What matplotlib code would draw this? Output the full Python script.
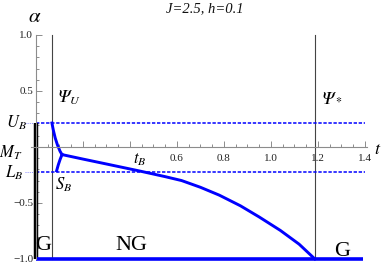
import numpy as np
from matplotlib import *
use("Agg")
from matplotlib.pyplot import *

# ______________________________________________________________________________
# Les donnees

# Parametres
J = 2.5
h = 0.1

# Lignes remarquables
psi_U = 0.068
psi_star = 1.187
U_B = 0.214
L_B = -0.223
alpha_min = -1.0
t_max = 1.39

# Branche superieure (depuis Psi_U, U_B jusqu'au point triple)
upper_t = [0.068, 0.074, 0.082, 0.092, 0.103, 0.111]
upper_a = [0.214, 0.150, 0.080, 0.015, -0.040, -0.068]

# Branche S_B (depuis L_B jusqu'au point triple)
sb_t = [0.088, 0.095, 0.103, 0.111]
sb_a = [-0.212, -0.160, -0.110, -0.068]

# Ligne t_B jusqu'a Psi_*
tb_t = [0.111, 0.20, 0.30, 0.44, 0.55, 0.62, 0.70, 0.78, 0.87, 0.95, 1.04, 1.12, 1.187]
tb_a = [-0.068, -0.108, -0.152, -0.214, -0.265, -0.30, -0.36, -0.43, -0.525, -0.625, -0.745, -0.868, -1.0]

# Graduations
xticks_major = [0.2, 0.4, 0.6, 0.8, 1.0, 1.2, 1.4]
xtick_labels = ["", "", "0.6", "0.8", "1.0", "1.2", "1.4"]
yticks_major = [-1.0, -0.5, 0.0, 0.5, 1.0]
ytick_labels = ["\u22121.0", "\u22120.5", "", "0.5", "1.0"]

# ______________________________________________________________________________
# RCParams

rcParams['font.family'] = 'Liberation Serif'
rcParams['mathtext.fontset'] = 'stix'
rcParams['figure.facecolor'] = 'w'

fig = figure(figsize=(3.83, 2.64), dpi=100)
ax = fig.add_axes([0, 0, 1, 1])
ax.set_xlim(-0.153, 1.477)
ax.set_ylim(-1.045, 1.3125)

axis_col = '#8c8c8c'
for s in ['top', 'right']:
    ax.spines[s].set_visible(False)
ax.spines['left'].set_position(('data', 0))
ax.spines['bottom'].set_position(('data', 0))
ax.spines['left'].set_bounds(-1.0, 1.0)
ax.spines['bottom'].set_bounds(-0.02, 1.41)
ax.spines['left'].set_color(axis_col)
ax.spines['bottom'].set_color(axis_col)
ax.spines['left'].set_linewidth(0.8)
ax.spines['bottom'].set_linewidth(0.8)

ax.set_xticks(xticks_major)
ax.set_xticklabels(xtick_labels)
ax.set_xticks(np.arange(0.05, 1.41, 0.05), minor=True)
ax.set_yticks(yticks_major)
ax.set_yticklabels(ytick_labels)
ax.set_yticks(np.arange(-0.9, 1.0, 0.1), minor=True)
ax.tick_params(axis='both', which='both', direction='in', color=axis_col,
               labelsize=8, labelcolor='#222222', width=0.7)
ax.tick_params(axis='both', which='major', length=4)
ax.tick_params(axis='both', which='minor', length=2.2)
ax.tick_params(axis='x', which='major', pad=5)
ax.tick_params(axis='y', which='major', pad=2)

# ______________________________________________________________________________
# Les traces

# Verticales Psi_U et Psi_*
ax.plot([psi_U, psi_U], [alpha_min, 1.0], color='#444444', lw=0.8)
ax.plot([psi_star, psi_star], [alpha_min, 1.0], color='#444444', lw=0.8)

# Horizontales U_B et L_B
for a in [U_B, L_B]:
    l, = ax.plot([0, 1.4], [a, a], color='blue', lw=1.1)
    l.set_dashes((2.2, 1.1))
    l2, = ax.plot([-0.045, 0], [a, a], color='#8a8aff', lw=0.7)
    l2.set_dashes((1, 1.2))

# Barre noire sur l'axe
ax.plot([0, 0], [alpha_min, U_B], color='k', lw=3.2, solid_capstyle='butt')

# Courbes
ax.plot(upper_t, upper_a, color='blue', lw=2.1)
ax.plot(sb_t, sb_a, color='blue', lw=2.1)
ax.plot(tb_t, tb_a, color='blue', lw=2.1)
ax.plot([0, t_max], [alpha_min, alpha_min], color='blue', lw=2.6, solid_capstyle='butt')

# ______________________________________________________________________________
# Les textes

psi = "\U0001D6F9"
ax.text(0.719, 1.232, "J=2.5, h=0.1", fontsize=10.5, style='italic', ha='center', va='center', color='#111111')
ax.text(-0.004, 1.152, r"$\alpha$", fontsize=15, ha='center', va='center')
ax.text(1.44, -0.02, r"$t$", fontsize=13, ha='left', va='center')

ax.text(0.094, 0.44, "$" + psi + "_U$", fontsize=12.5, ha='left', va='center')
ax.text(1.217, 0.44, "$" + psi + "_*$", fontsize=12.5, ha='left', va='center')

ax.text(-0.085, 0.214, r"$U_B$", fontsize=12, ha='center', va='center')
ax.text(-0.106, -0.054, r"$M_T$", fontsize=12, ha='center', va='center')
ax.text(-0.094, -0.232, r"$L_B$", fontsize=12, ha='center', va='center')
ax.text(0.119, -0.34, r"$S_B$", fontsize=12, ha='center', va='center')
ax.text(0.443, -0.116, r"$t_B$", fontsize=12, ha='center', va='center')

ax.text(0.032, -0.92, "G", fontsize=16, ha='center', va='baseline')
ax.text(0.404, -0.92, "NG", fontsize=16, ha='center', va='baseline')
ax.text(1.302, -0.973, "G", fontsize=16, ha='center', va='baseline')

fig.savefig("out.png", dpi=100)
